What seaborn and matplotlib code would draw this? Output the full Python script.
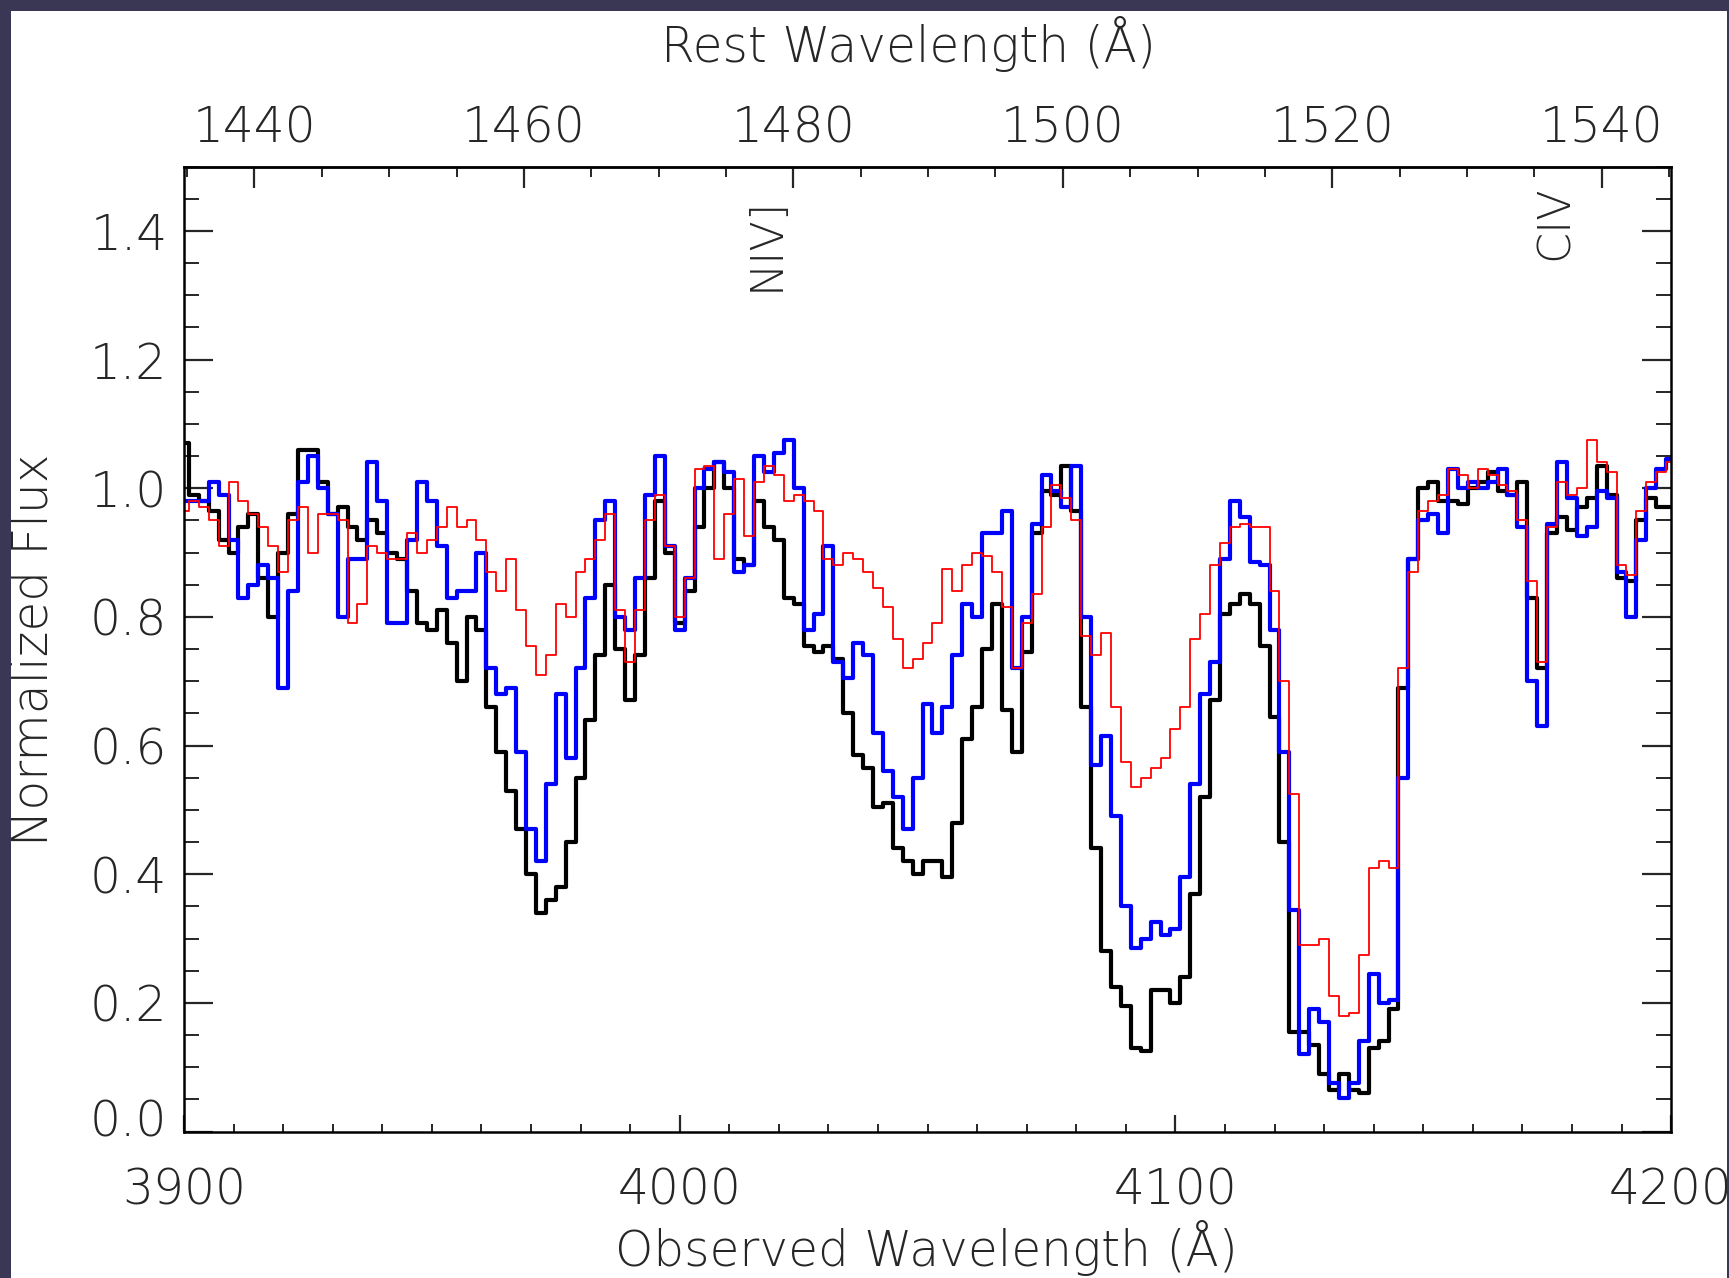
import numpy as np
import seaborn as sns
import matplotlib.pyplot as plt
from matplotlib.ticker import MultipleLocator, FormatStrFormatter
from matplotlib.patches import Rectangle
from matplotlib.transforms import ScaledTranslation

# observed wavelength grid (2 A bins) and redshift factor for the rest-frame axis
wave = np.arange(3900, 4201, 2)
one_plus_z = 2.7182

# black spectrum (thick)
flux_black = [
    1.07, 0.99, 0.98, 0.965, 0.92, 0.90, 0.94, 0.96, 0.86, 0.80,
    0.90, 0.96, 1.06, 1.06, 1.01, 0.96, 0.97, 0.94, 0.92, 0.95,
    0.93, 0.90, 0.89, 0.84, 0.79, 0.78, 0.81, 0.76, 0.70, 0.80,
    0.78, 0.66, 0.59, 0.53, 0.47, 0.40, 0.34, 0.36, 0.38, 0.45,
    0.55, 0.64, 0.74, 0.85, 0.75, 0.67, 0.74, 0.86, 0.98, 0.90,
    0.79, 0.84, 0.94, 1.00, 1.04, 1.00, 0.89, 0.88, 0.98, 0.94,
    0.92, 0.83, 0.82, 0.755, 0.745, 0.755, 0.735, 0.65, 0.585, 0.565,
    0.505, 0.51, 0.44, 0.42, 0.40, 0.42, 0.42, 0.395, 0.48, 0.61,
    0.66, 0.75, 0.82, 0.655, 0.59, 0.745, 0.93, 0.995, 0.99, 1.035,
    0.965, 0.66, 0.44, 0.28, 0.225, 0.195, 0.13, 0.125, 0.22, 0.22,
    0.20, 0.24, 0.37, 0.52, 0.67, 0.805, 0.82, 0.835, 0.82, 0.755,
    0.645, 0.45, 0.155, 0.155, 0.135, 0.09, 0.065, 0.09, 0.065, 0.06,
    0.13, 0.14, 0.19, 0.69, 0.89, 1.00, 1.01, 0.98, 0.98, 0.975,
    1.00, 1.01, 1.025, 0.995, 0.99, 1.01, 0.83, 0.72, 0.93, 0.955,
    0.935, 0.97, 0.985, 1.035, 0.99, 0.86, 0.855, 0.95, 0.985, 0.97,
    0.97,
]

# blue spectrum (thick)
flux_blue = [
    0.98, 0.98, 0.98, 1.01, 0.99, 0.92, 0.83, 0.85, 0.88, 0.86,
    0.69, 0.84, 1.01, 1.05, 1.00, 0.96, 0.80, 0.89, 0.89, 1.04,
    0.98, 0.79, 0.79, 0.92, 1.01, 0.98, 0.91, 0.83, 0.84, 0.84,
    0.90, 0.72, 0.68, 0.69, 0.59, 0.47, 0.42, 0.54, 0.68, 0.58,
    0.72, 0.83, 0.95, 0.98, 0.80, 0.78, 0.86, 0.99, 1.05, 0.91,
    0.78, 0.86, 1.00, 1.03, 1.04, 1.025, 0.87, 0.88, 1.05, 1.025,
    1.055, 1.075, 1.00, 0.78, 0.805, 0.91, 0.73, 0.705, 0.76, 0.74,
    0.62, 0.56, 0.52, 0.47, 0.55, 0.665, 0.62, 0.66, 0.74, 0.82,
    0.80, 0.93, 0.93, 0.965, 0.72, 0.80, 0.945, 1.02, 0.995, 0.97,
    1.035, 0.80, 0.57, 0.615, 0.49, 0.35, 0.285, 0.30, 0.325, 0.305,
    0.315, 0.395, 0.54, 0.68, 0.73, 0.89, 0.98, 0.955, 0.885, 0.88,
    0.78, 0.59, 0.345, 0.12, 0.19, 0.17, 0.075, 0.052, 0.075, 0.14,
    0.245, 0.20, 0.205, 0.55, 0.89, 0.95, 0.96, 0.93, 1.03, 1.00,
    1.01, 1.00, 1.01, 1.03, 0.99, 0.94, 0.70, 0.63, 0.945, 1.04,
    0.985, 0.925, 0.94, 0.995, 0.985, 0.87, 0.80, 0.92, 1.00, 1.03,
    1.045,
]

# red spectrum (thin)
flux_red = [
    0.965, 0.98, 0.97, 0.95, 0.91, 1.01, 0.98, 0.96, 0.94, 0.91,
    0.87, 0.95, 0.97, 0.90, 0.96, 0.96, 0.95, 0.79, 0.82, 0.91,
    0.90, 0.89, 0.89, 0.93, 0.90, 0.92, 0.94, 0.97, 0.94, 0.95,
    0.92, 0.87, 0.84, 0.89, 0.81, 0.755, 0.71, 0.74, 0.82, 0.80,
    0.87, 0.89, 0.92, 0.96, 0.81, 0.73, 0.81, 0.95, 0.99, 0.91,
    0.80, 0.86, 1.03, 1.035, 0.89, 0.96, 1.015, 0.925, 1.01, 1.035,
    1.02, 0.98, 0.99, 0.98, 0.965, 0.89, 0.88, 0.90, 0.89, 0.87,
    0.845, 0.815, 0.765, 0.72, 0.735, 0.76, 0.79, 0.875, 0.84, 0.88,
    0.90, 0.895, 0.87, 0.815, 0.72, 0.79, 0.835, 0.94, 1.005, 0.985,
    0.95, 0.77, 0.74, 0.775, 0.66, 0.575, 0.535, 0.55, 0.565, 0.58,
    0.625, 0.66, 0.765, 0.805, 0.88, 0.915, 0.94, 0.945, 0.94, 0.94,
    0.84, 0.70, 0.525, 0.29, 0.29, 0.30, 0.21, 0.18, 0.185, 0.275,
    0.41, 0.42, 0.41, 0.72, 0.87, 0.965, 0.98, 0.99, 1.03, 1.02,
    1.00, 1.03, 1.02, 1.005, 0.995, 0.95, 0.855, 0.73, 0.94, 1.01,
    0.99, 1.00, 1.075, 1.04, 1.025, 0.88, 0.865, 0.965, 1.01, 1.025,
    1.04,
]

# line identifications (label, observed wavelength, flux)
line_ids = ["NIV]", "CIV"]
line_x = [4017.5, 4176.7]
line_y = [1.38, 1.413]

sns.set_style("ticks")
plt.rcParams["font.family"] = ["DejaVu Sans"]
plt.rcParams["font.weight"] = "light"
plt.rcParams["axes.labelweight"] = "light"
text_col = "#262626"
dark = "#3a3755"

fig = plt.figure(figsize=(17.29, 12.78), dpi=100, facecolor="white")
ax = fig.add_axes([0.1064, 0.1146, 0.8601, 0.7551])

sns.lineplot(x=wave, y=flux_black, ax=ax, estimator=None, color="black",
             linewidth=3.0, drawstyle="steps-mid")
sns.lineplot(x=wave, y=flux_blue, ax=ax, estimator=None, color="#0000ff",
             linewidth=3.0, drawstyle="steps-mid")
sns.lineplot(x=wave, y=flux_red, ax=ax, estimator=None, color="#ff0000",
             linewidth=1.3, drawstyle="steps-mid")

ax.set_xlim(3900, 4200)
ax.set_ylim(0, 1.5)

fs = 35
ax.xaxis.set_major_locator(MultipleLocator(100))
ax.xaxis.set_minor_locator(MultipleLocator(10))
ax.yaxis.set_minor_locator(MultipleLocator(0.05))
ax.set_yticks(np.arange(0, 1.41, 0.2))
ax.yaxis.set_major_formatter(FormatStrFormatter("%.1f"))

ax.tick_params(axis="x", which="major", direction="in", length=12, width=1.6,
               pad=25, labelsize=fs, labelcolor=text_col, top=False)
ax.tick_params(axis="x", which="minor", direction="in", length=6, width=1.4, top=False)
ax.tick_params(axis="y", which="major", direction="in", length=21, width=1.6,
               pad=12, labelsize=fs, labelcolor=text_col, right=True)
ax.tick_params(axis="y", which="minor", direction="in", length=10.5, width=1.4, right=True)

for sp in ax.spines.values():
    sp.set_linewidth(1.8)
    sp.set_color("black")

# rest-frame axis on top
sec = ax.secondary_xaxis("top", functions=(lambda x: x / one_plus_z,
                                           lambda x: x * one_plus_z))
sec.set_xticks(np.arange(1440, 1541, 20))
sec.xaxis.set_minor_locator(MultipleLocator(5))
sec.tick_params(which="major", direction="in", length=15, width=1.6, pad=10,
                labelsize=fs, labelcolor=text_col)
sec.tick_params(which="minor", direction="in", length=7, width=1.4)
sec.spines["top"].set_linewidth(1.8)

ax.text(0.487, 1.127, "Rest Wavelength (Å)", transform=ax.transAxes,
        ha="center", va="center", fontsize=fs, color=text_col)

ax.set_xlabel("Observed Wavelength (Å)", fontsize=fs, color=text_col)
ax.xaxis.set_label_coords(0.499, -0.121)
ax.xaxis.label.set_va("center")
ax.set_ylabel("Normalized Flux", fontsize=fs, color=text_col)
ax.yaxis.set_label_coords(-0.1015, 0.499)
ax.yaxis.label.set_va("center")

for lab, lx, ly in zip(line_ids, line_x, line_y):
    ax.text(lx, ly, lab, rotation=90, ha="center", va="center",
            fontsize=32, color=text_col)

# "0.0" label sits a bit higher, as in the original
fig.canvas.draw()
for t in ax.yaxis.get_majorticklabels():
    if t.get_text() == "0.0":
        t.set_transform(t.get_transform() + ScaledTranslation(0, 0.14, fig.dpi_scale_trans))

# dark slide border
for (x0, y0, w, h) in [(0, 1 - 11 / 1278, 1, 11 / 1278), (0, 0, 11 / 1729, 1),
                       (1727 / 1729, 0, 2 / 1729, 1)]:
    fig.patches.append(Rectangle((x0, y0), w, h, transform=fig.transFigure,
                                 facecolor=dark, edgecolor="none", zorder=10))

fig.savefig("out.png", dpi=100, facecolor="white")
